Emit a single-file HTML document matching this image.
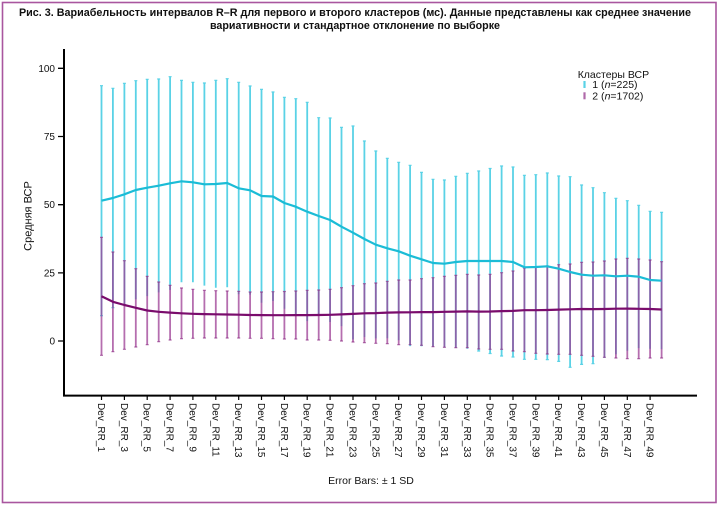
<!DOCTYPE html>
<html><head><meta charset="utf-8"><style>
html,body{margin:0;padding:0;background:#fff;}
svg{display:block;font-family:"Liberation Sans",Arial,"Noto Sans CJK SC",sans-serif;}
</style></head><body>
<svg width="720" height="508" viewBox="0 0 720 508" xmlns="http://www.w3.org/2000/svg">
<rect x="0" y="0" width="720" height="508" fill="#fff"/>
<rect x="2.5" y="2.5" width="713.5" height="500" fill="none" stroke="#a9569f" stroke-width="1.6"/>
<text x="355" y="16" text-anchor="middle" font-size="11" font-weight="bold" textLength="672" lengthAdjust="spacingAndGlyphs" fill="#111">Рис. 3. Вариабельность интервалов R–R для первого и второго кластеров (мс). Данные представлены как среднее значение</text>
<text x="355" y="29" text-anchor="middle" font-size="11" font-weight="bold" textLength="290" lengthAdjust="spacingAndGlyphs" fill="#111">вариативности и стандартное отклонение по выборке</text>

<!-- cyan bars -->
<g stroke="#5ad2e6" stroke-width="1.8" fill="none">
<path d="M101.5 85.7V315.7M112.9 88.3V307.7M124.4 83.3V305.3M135.8 80.7V299.3M147.2 79.3V296.1M158.7 79V292.4M170.1 76.7V289.9M181.5 80.3V282.3M192.9 82.3V282.3M204.4 83V285.6M215.8 80.3V287.7M227.2 78.7V287.3M238.7 82.3V294.3M250.1 86V294.6M261.5 89.3V302.7M273 92V301M284.4 97.3V308.7M295.8 98.7V314.7M307.2 102.3V321.1M318.7 117.7V314.3M330.1 118V322M341.5 127.3V326.1M353 126V339.4M364.4 141V337M375.8 151V338.4M387.3 158.3V338.3M398.7 162.3V340.3M410.1 165.3V346.1M421.5 172.3V346.3M433 179.3V346.7M444.4 180V347.4M455.8 176.3V347.7M467.3 173.3V348.7M478.7 171V351M490.1 168.5V353.5M501.6 166V356M513 167V357M524.4 175.3V359.3M535.8 174.7V359.3M547.3 173V359.6M558.7 176V361.4M570.1 176.7V367.3M581.6 185V364.4M593 187.7V363.7M604.4 192.7V357.9M615.9 198.3V354.3M627.3 200.7V350.7M638.7 205.3V348.1M650.1 211.3V348.7M661.6 212.3V349.1"/>
</g>
<g stroke="#5ad2e6" stroke-width="1.2" fill="none">
<path d="M100 85.7h3M100 315.7h3M111.4 88.3h3M111.4 307.7h3M122.9 83.3h3M134.3 80.7h3M145.7 79.3h3M157.2 79h3M168.6 76.7h3M180 80.3h3M191.4 82.3h3M202.9 83h3M214.3 80.3h3M225.7 78.7h3M237.2 82.3h3M248.6 86h3M260 89.3h3M271.5 92h3M282.9 97.3h3M294.3 98.7h3M305.7 102.3h3M317.2 117.7h3M328.6 118h3M340 127.3h3M351.5 126h3M362.9 141h3M374.3 151h3M385.8 158.3h3M397.2 162.3h3M408.6 165.3h3M420 172.3h3M431.5 179.3h3M442.9 180h3M454.3 176.3h3M465.8 173.3h3M477.2 171h3M488.6 168.5h3M500.1 166h3M511.5 167h3M522.9 175.3h3M534.3 174.7h3M545.8 173h3M557.2 176h3M568.6 176.7h3M580.1 185h3M591.5 187.7h3M602.9 192.7h3M614.4 198.3h3M625.8 200.7h3M637.2 205.3h3M648.6 211.3h3M660.1 212.3h3
M477.2 351h3M488.6 353.5h3M500.1 356h3M511.5 357h3M522.9 359.3h3M534.3 359.3h3M545.8 359.6h3M557.2 361.4h3M568.6 367.3h3M580.1 364.4h3M591.5 363.7h3"/>
</g>

<!-- purple bars -->
<g stroke="#9c3d94" stroke-opacity="0.75" stroke-width="1.8" fill="none">
<path d="M101.5 237.3V355.3M112.9 252V351.7M124.4 260.7V349.3M135.8 268.7V347M147.2 276.3V344.7M158.7 282V341.7M170.1 285.3V340M181.5 288V338.7M192.9 289.3V338.3M204.4 290.3V338M215.8 290.7V338M227.2 291V338M238.7 291.3V338M250.1 292V338.3M261.5 292V338.3M273 291.7V338.7M284.4 291.5V339M295.8 291V339M307.2 290.3V340M318.7 290V340M330.1 289.3V340.3M341.5 287.7V341M353 285.7V342M364.4 283.7V342.7M375.8 283V343.3M387.3 281.3V343.7M398.7 280V344.7M410.1 280V344.7M421.5 278.7V345.3M433 277.7V346.7M444.4 276.3V347.3M455.8 275.3V347.7M467.3 274.3V347.7M478.7 275V349M490.1 274.3V349.3M501.6 272.7V349.3M513 271V351M524.4 268V351.7M535.8 267.3V353.3M547.3 266V354M558.7 264.7V354.3M570.1 264V354.3M581.6 262.3V355.3M593 262V356.3M604.4 261V357.3M615.9 259V358M627.3 258.3V358.7M638.7 259V358.7M650.1 260V358M661.6 261.7V358"/>
</g>
<g stroke="#8e2f86" stroke-opacity="0.7" stroke-width="1.2" fill="none">
<path d="M100 237.3h3M100 355.3h3M111.4 252h3M111.4 351.7h3M122.9 260.7h3M122.9 349.3h3M134.3 268.7h3M134.3 347h3M145.7 276.3h3M145.7 344.7h3M157.2 282h3M157.2 341.7h3M168.6 285.3h3M168.6 340h3M180 288h3M180 338.7h3M191.4 289.3h3M191.4 338.3h3M202.9 290.3h3M202.9 338h3M214.3 290.7h3M214.3 338h3M225.7 291h3M225.7 338h3M237.2 291.3h3M237.2 338h3M248.6 292h3M248.6 338.3h3M260 292h3M260 338.3h3M271.5 291.7h3M271.5 338.7h3M282.9 291.5h3M282.9 339h3M294.3 291h3M294.3 339h3M305.7 290.3h3M305.7 340h3M317.2 290h3M317.2 340h3M328.6 289.3h3M328.6 340.3h3M340 287.7h3M340 341h3M351.5 285.7h3M351.5 342h3M362.9 283.7h3M362.9 342.7h3M374.3 283h3M374.3 343.3h3M385.8 281.3h3M385.8 343.7h3M397.2 280h3M397.2 344.7h3M408.6 280h3M408.6 344.7h3M420 278.7h3M420 345.3h3M431.5 277.7h3M431.5 346.7h3M442.9 276.3h3M442.9 347.3h3M454.3 275.3h3M454.3 347.7h3M465.8 274.3h3M465.8 347.7h3M477.2 275h3M477.2 349h3M488.6 274.3h3M488.6 349.3h3M500.1 272.7h3M500.1 349.3h3M511.5 271h3M511.5 351h3M522.9 268h3M522.9 351.7h3M534.3 267.3h3M534.3 353.3h3M545.8 266h3M545.8 354h3M557.2 264.7h3M557.2 354.3h3M568.6 264h3M568.6 354.3h3M580.1 262.3h3M580.1 355.3h3M591.5 262h3M591.5 356.3h3M602.9 261h3M602.9 357.3h3M614.4 259h3M614.4 358h3M625.8 258.3h3M625.8 358.7h3M637.2 259h3M637.2 358.7h3M648.6 260h3M648.6 358h3M660.1 261.7h3M660.1 358h3"/>
</g>

<!-- mean lines -->
<polyline fill="none" stroke="#1bbcd6" stroke-width="2.2" stroke-linejoin="round" points="101.5,200.7 112.9,198 124.4,194.3 135.8,190 147.2,187.7 158.7,185.7 170.1,183.3 181.5,181.3 192.9,182.3 204.4,184.3 215.8,184 227.2,183 238.7,188.3 250.1,190.3 261.5,196 273,196.5 284.4,203 295.8,206.7 307.2,211.7 318.7,216 330.1,220 341.5,226.7 353,232.7 364.4,239 375.8,244.7 387.3,248.3 398.7,251.3 410.1,255.7 421.5,259.3 433,263 444.4,263.7 455.8,262 467.3,261 478.7,261 490.1,261 501.6,261 513,262 524.4,267.3 535.8,267 547.3,266.3 558.7,268.7 570.1,272 581.6,274.7 593,275.7 604.4,275.3 615.9,276.3 627.3,275.7 638.7,276.7 650.1,280 661.6,280.7"/>
<polyline fill="none" stroke="#7a0c6c" stroke-width="2.2" stroke-linejoin="round" points="101.5,296.3 112.9,301.8 124.4,305 135.8,307.8 147.2,310.5 158.7,311.8 170.1,312.6 181.5,313.3 192.9,313.8 204.4,314.1 215.8,314.3 227.2,314.5 238.7,314.7 250.1,315 261.5,315.1 273,315.2 284.4,315.2 295.8,315.1 307.2,315.1 318.7,315 330.1,314.8 341.5,314.4 353,313.9 364.4,313.3 375.8,313.1 387.3,312.6 398.7,312.4 410.1,312.3 421.5,312.1 433,312.1 444.4,311.8 455.8,311.6 467.3,311.4 478.7,311.6 490.1,311.5 501.6,311.1 513,310.9 524.4,310.2 535.8,310.2 547.3,310 558.7,309.6 570.1,309.3 581.6,309 593,309.1 604.4,309 615.9,308.7 627.3,308.6 638.7,308.8 650.1,309 661.6,309.5"/>

<!-- axes -->
<g stroke="#000" stroke-width="2" fill="none">
<path d="M64 49V396.6M63 395.6H697"/>
<path d="M58 68.3H64M58 136.5H64M58 204.7H64M58 272.9H64M58 341H64" stroke-width="1.3"/>
<path d="M101.5 396V400M124.4 396V400M147.2 396V400M170.1 396V400M192.9 396V400M215.8 396V400M238.7 396V400M261.5 396V400M284.4 396V400M307.2 396V400M330.1 396V400M353 396V400M375.8 396V400M398.7 396V400M421.5 396V400M444.4 396V400M467.3 396V400M490.1 396V400M513 396V400M535.8 396V400M558.7 396V400M581.6 396V400M604.4 396V400M627.3 396V400M650.1 396V400" stroke-width="1.2"/>
</g>
<g font-size="10" fill="#111" text-anchor="end">
<text x="55" y="71.8">100</text>
<text x="55" y="140">75</text>
<text x="55" y="208.2">50</text>
<text x="55" y="276.4">25</text>
<text x="55" y="344.5">0</text>
</g>
<text transform="translate(31.5,216) rotate(-90)" text-anchor="middle" font-size="11" fill="#111">Средняя ВСР</text>

<g font-size="10" fill="#111">
<text transform="translate(98,403) rotate(90)">Dev_RR_1</text>
<text transform="translate(120.9,403) rotate(90)">Dev_RR_3</text>
<text transform="translate(143.7,403) rotate(90)">Dev_RR_5</text>
<text transform="translate(166.6,403) rotate(90)">Dev_RR_7</text>
<text transform="translate(189.4,403) rotate(90)">Dev_RR_9</text>
<text transform="translate(212.3,403) rotate(90)">Dev_RR_11</text>
<text transform="translate(235.2,403) rotate(90)">Dev_RR_13</text>
<text transform="translate(258,403) rotate(90)">Dev_RR_15</text>
<text transform="translate(280.9,403) rotate(90)">Dev_RR_17</text>
<text transform="translate(303.7,403) rotate(90)">Dev_RR_19</text>
<text transform="translate(326.6,403) rotate(90)">Dev_RR_21</text>
<text transform="translate(349.5,403) rotate(90)">Dev_RR_23</text>
<text transform="translate(372.3,403) rotate(90)">Dev_RR_25</text>
<text transform="translate(395.2,403) rotate(90)">Dev_RR_27</text>
<text transform="translate(418,403) rotate(90)">Dev_RR_29</text>
<text transform="translate(440.9,403) rotate(90)">Dev_RR_31</text>
<text transform="translate(463.8,403) rotate(90)">Dev_RR_33</text>
<text transform="translate(486.6,403) rotate(90)">Dev_RR_35</text>
<text transform="translate(509.5,403) rotate(90)">Dev_RR_37</text>
<text transform="translate(532.3,403) rotate(90)">Dev_RR_39</text>
<text transform="translate(555.2,403) rotate(90)">Dev_RR_41</text>
<text transform="translate(578.1,403) rotate(90)">Dev_RR_43</text>
<text transform="translate(600.9,403) rotate(90)">Dev_RR_45</text>
<text transform="translate(623.8,403) rotate(90)">Dev_RR_47</text>
<text transform="translate(646.6,403) rotate(90)">Dev_RR_49</text>
</g>

<text x="371" y="484" text-anchor="middle" font-size="10.5" fill="#111">Error Bars: ± 1 SD</text>

<!-- legend -->
<text x="577.7" y="77.8" font-size="10.5" fill="#111">Кластеры ВСР</text>
<rect x="583.4" y="81" width="2.2" height="7" fill="#5ad2e6"/>
<rect x="583.4" y="92.3" width="2.2" height="7" fill="#b06aaa"/>
<text x="592.3" y="88.2" font-size="10.5" fill="#111">1 (<tspan font-style="italic">n</tspan>=225)</text>
<text x="592.3" y="99.5" font-size="10.5" fill="#111">2 (<tspan font-style="italic">n</tspan>=1702)</text>
</svg>
</body></html>
